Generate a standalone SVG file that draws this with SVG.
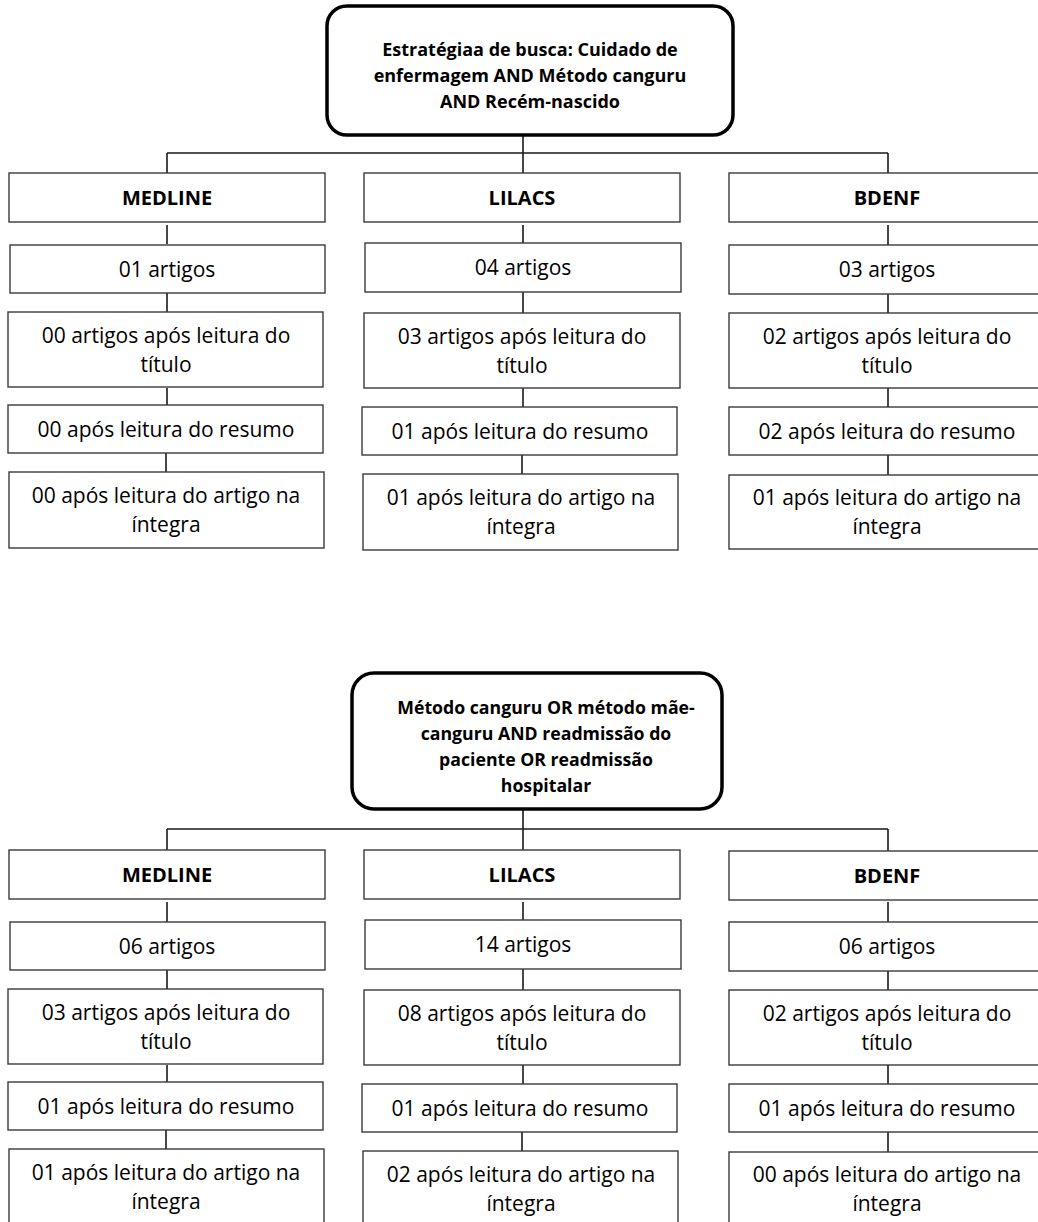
<svg xmlns="http://www.w3.org/2000/svg" width="1038" height="1222" viewBox="0 0 1038 1222">
<style>
.bg{fill:#ffffff}
.box{fill:#ffffff;stroke:#3a3a3a;stroke-width:1.4}
.main{fill:#ffffff;stroke:#000000;stroke-width:3.5}
.ln{stroke:#1a1a1a;stroke-width:1.6;fill:none}
text{font-family:"Open Sans","Liberation Sans",sans-serif;fill:#000000;text-anchor:middle}
.t{font-size:21px}
.lb{font-size:20px;font-weight:bold}
.hd{font-size:18px;font-weight:bold}
.hd2{font-size:17.7px;font-weight:bold}
</style>
<rect class="bg" x="0" y="0" width="1038" height="1222"/>
<g id="connectors">
  <path class="ln" d="M523 136V173 M167 153H888 M167 153V173 M888 153V173"/>
  <path class="ln" d="M167 225V244 M167 293V312 M167 388V405 M166 453V472"/>
  <path class="ln" d="M523 225V243 M523 292V313 M523 388V407 M522 455V474"/>
  <path class="ln" d="M888 225V245 M888 294V313 M888 388V407 M888 455V475"/>
  <path class="ln" d="M523 810V850 M167 829H888 M167 829V850 M888 829V851"/>
  <path class="ln" d="M167 902V922 M167 970V989 M167 1065V1082 M166 1130V1149"/>
  <path class="ln" d="M523 902V920 M523 969V990 M523 1065V1084 M522 1132V1151"/>
  <path class="ln" d="M888 902V922 M888 971V990 M888 1065V1084 M888 1132V1152"/>
</g>
<g id="top-strategy">
  <rect class="main" x="327" y="6" width="406" height="129" rx="20"/>
  <text class="hd" x="530" y="56">Estratégiaa de busca: Cuidado de</text>
  <text class="hd" x="530" y="82">enfermagem AND Método canguru</text>
  <text class="hd" x="530" y="108">AND Recém-nascido</text>
</g>
<g id="t-medline"><rect class="box" x="9" y="173" width="316" height="49"/><text class="lb" x="167" y="205">MEDLINE</text></g>
<g id="t-medline-1"><rect class="box" x="10" y="245" width="315" height="48"/><text class="t" x="167" y="277">01 artigos</text></g>
<g id="t-medline-2"><rect class="box" x="8" y="312" width="315" height="75"/><text class="t" x="166" y="343">00 artigos após leitura do</text><text class="t" x="166" y="372">título</text></g>
<g id="t-medline-3"><rect class="box" x="8" y="405" width="315" height="48"/><text class="t" x="166" y="437">00 após leitura do resumo</text></g>
<g id="t-medline-4"><rect class="box" x="9" y="472" width="315" height="76"/><text class="t" x="166" y="503">00 após leitura do artigo na</text><text class="t" x="166" y="532">íntegra</text></g>
<g id="t-lilacs"><rect class="box" x="364" y="173" width="316" height="49"/><text class="lb" x="522" y="205">LILACS</text></g>
<g id="t-lilacs-1"><rect class="box" x="365" y="243" width="316" height="49"/><text class="t" x="523" y="275">04 artigos</text></g>
<g id="t-lilacs-2"><rect class="box" x="364" y="313" width="316" height="75"/><text class="t" x="522" y="344">03 artigos após leitura do</text><text class="t" x="522" y="373">título</text></g>
<g id="t-lilacs-3"><rect class="box" x="362" y="407" width="315" height="48"/><text class="t" x="520" y="439">01 após leitura do resumo</text></g>
<g id="t-lilacs-4"><rect class="box" x="363" y="474" width="315" height="76"/><text class="t" x="521" y="505">01 após leitura do artigo na</text><text class="t" x="521" y="534">íntegra</text></g>
<g id="t-bdenf"><rect class="box" x="729" y="173" width="316" height="49"/><text class="lb" x="887" y="205">BDENF</text></g>
<g id="t-bdenf-1"><rect class="box" x="729" y="245" width="316" height="49"/><text class="t" x="887" y="277">03 artigos</text></g>
<g id="t-bdenf-2"><rect class="box" x="729" y="313" width="316" height="75"/><text class="t" x="887" y="344">02 artigos após leitura do</text><text class="t" x="887" y="373">título</text></g>
<g id="t-bdenf-3"><rect class="box" x="729" y="407" width="316" height="48"/><text class="t" x="887" y="439">02 após leitura do resumo</text></g>
<g id="t-bdenf-4"><rect class="box" x="729" y="475" width="316" height="74"/><text class="t" x="887" y="505">01 após leitura do artigo na</text><text class="t" x="887" y="534">íntegra</text></g>
<g id="bottom-strategy">
  <rect class="main" x="352" y="673" width="370" height="136" rx="22"/>
  <text class="hd2" x="546" y="714">Método canguru OR método mãe-</text>
  <text class="hd2" x="546" y="740">canguru AND readmissão do</text>
  <text class="hd2" x="546" y="766">paciente OR readmissão</text>
  <text class="hd2" x="546" y="792">hospitalar</text>
</g>
<g id="b-medline"><rect class="box" x="9" y="850" width="316" height="49"/><text class="lb" x="167" y="882">MEDLINE</text></g>
<g id="b-medline-1"><rect class="box" x="10" y="922" width="315" height="48"/><text class="t" x="167" y="954">06 artigos</text></g>
<g id="b-medline-2"><rect class="box" x="8" y="989" width="315" height="75"/><text class="t" x="166" y="1020">03 artigos após leitura do</text><text class="t" x="166" y="1049">título</text></g>
<g id="b-medline-3"><rect class="box" x="8" y="1082" width="315" height="48"/><text class="t" x="166" y="1114">01 após leitura do resumo</text></g>
<g id="b-medline-4"><rect class="box" x="9" y="1149" width="315" height="76"/><text class="t" x="166" y="1180">01 após leitura do artigo na</text><text class="t" x="166" y="1209">íntegra</text></g>
<g id="b-lilacs"><rect class="box" x="364" y="850" width="316" height="49"/><text class="lb" x="522" y="882">LILACS</text></g>
<g id="b-lilacs-1"><rect class="box" x="365" y="920" width="316" height="49"/><text class="t" x="523" y="952">14 artigos</text></g>
<g id="b-lilacs-2"><rect class="box" x="364" y="990" width="316" height="75"/><text class="t" x="522" y="1021">08 artigos após leitura do</text><text class="t" x="522" y="1050">título</text></g>
<g id="b-lilacs-3"><rect class="box" x="362" y="1084" width="315" height="48"/><text class="t" x="520" y="1116">01 após leitura do resumo</text></g>
<g id="b-lilacs-4"><rect class="box" x="363" y="1151" width="315" height="76"/><text class="t" x="521" y="1182">02 após leitura do artigo na</text><text class="t" x="521" y="1211">íntegra</text></g>
<g id="b-bdenf"><rect class="box" x="729" y="851" width="316" height="49"/><text class="lb" x="887" y="883">BDENF</text></g>
<g id="b-bdenf-1"><rect class="box" x="729" y="922" width="316" height="49"/><text class="t" x="887" y="954">06 artigos</text></g>
<g id="b-bdenf-2"><rect class="box" x="729" y="990" width="316" height="75"/><text class="t" x="887" y="1021">02 artigos após leitura do</text><text class="t" x="887" y="1050">título</text></g>
<g id="b-bdenf-3"><rect class="box" x="729" y="1084" width="316" height="48"/><text class="t" x="887" y="1116">01 após leitura do resumo</text></g>
<g id="b-bdenf-4"><rect class="box" x="729" y="1152" width="316" height="74"/><text class="t" x="887" y="1182">00 após leitura do artigo na</text><text class="t" x="887" y="1211">íntegra</text></g>
</svg>
